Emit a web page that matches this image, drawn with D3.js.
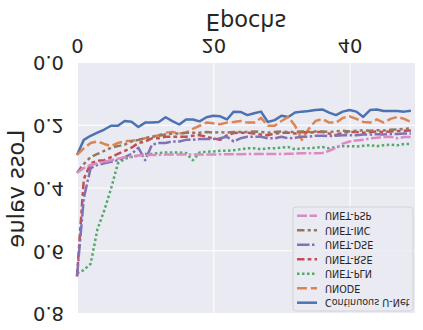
<!DOCTYPE html>
<html>
<head>
<meta charset="utf-8">
<script src="https://cdn.jsdelivr.net/npm/d3@7"></script>
<style>
body { margin: 0; background: #fff; }
svg text { font-family: 'DejaVu Sans', sans-serif; fill: #262626; }
</style>
</head>
<body>
<div class="chart-wrapper"></div>
<script>
const models = ['Continuous U-Net', 'UNODE', 'UNET-PLN', 'UNET-RSE', 'UNET-DSE', 'UNET-INC', 'UNET-PSP'];

const continuousUNet = [0.293, 0.245, 0.232, 0.222, 0.212, 0.2, 0.2, 0.185, 0.187, 0.204, 0.19, 0.19, 0.188, 0.173, 0.185, 0.196, 0.18, 0.18, 0.186, 0.173, 0.168, 0.17, 0.18, 0.155, 0.156, 0.166, 0.16, 0.155, 0.188, 0.182, 0.168, 0.172, 0.158, 0.155, 0.153, 0.15, 0.148, 0.158, 0.166, 0.155, 0.15, 0.155, 0.172, 0.15, 0.148, 0.153, 0.153, 0.153, 0.155, 0.152];
const unode = [0.293, 0.272, 0.255, 0.25, 0.258, 0.265, 0.255, 0.25, 0.248, 0.245, 0.24, 0.235, 0.23, 0.222, 0.22, 0.225, 0.222, 0.21, 0.2, 0.19, 0.192, 0.195, 0.19, 0.188, 0.185, 0.19, 0.19, 0.175, 0.2, 0.2, 0.185, 0.172, 0.2, 0.245, 0.21, 0.185, 0.178, 0.19, 0.19, 0.175, 0.17, 0.178, 0.188, 0.19, 0.18, 0.19, 0.178, 0.172, 0.178, 0.188];
const unetPln = [0.67, 0.66, 0.64, 0.53, 0.47, 0.4, 0.32, 0.305, 0.3, 0.295, 0.29, 0.29, 0.287, 0.285, 0.285, 0.285, 0.287, 0.31, 0.285, 0.283, 0.282, 0.28, 0.28, 0.278, 0.275, 0.272, 0.272, 0.275, 0.272, 0.272, 0.27, 0.268, 0.275, 0.272, 0.272, 0.27, 0.268, 0.272, 0.268, 0.265, 0.265, 0.266, 0.264, 0.262, 0.265, 0.262, 0.26, 0.262, 0.258, 0.258];
const unetRse = [0.68, 0.37, 0.32, 0.312, 0.31, 0.3, 0.29, 0.28, 0.27, 0.255, 0.25, 0.24, 0.24, 0.235, 0.235, 0.235, 0.235, 0.232, 0.23, 0.235, 0.24, 0.245, 0.23, 0.223, 0.222, 0.222, 0.225, 0.228, 0.23, 0.225, 0.222, 0.222, 0.225, 0.22, 0.222, 0.22, 0.22, 0.225, 0.23, 0.222, 0.22, 0.22, 0.222, 0.22, 0.218, 0.22, 0.218, 0.217, 0.216, 0.215];
const unetDse = [0.68, 0.43, 0.335, 0.325, 0.32, 0.315, 0.31, 0.3, 0.29, 0.27, 0.31, 0.26, 0.255, 0.255, 0.25, 0.25, 0.245, 0.245, 0.242, 0.242, 0.242, 0.24, 0.235, 0.25, 0.24, 0.235, 0.235, 0.235, 0.24, 0.24, 0.235, 0.24, 0.238, 0.235, 0.235, 0.232, 0.232, 0.233, 0.232, 0.23, 0.23, 0.23, 0.228, 0.228, 0.227, 0.228, 0.226, 0.226, 0.225, 0.225];
const unetInc = [0.35, 0.322, 0.3, 0.29, 0.28, 0.27, 0.265, 0.26, 0.25, 0.245, 0.24, 0.235, 0.232, 0.228, 0.225, 0.225, 0.222, 0.222, 0.222, 0.22, 0.222, 0.22, 0.222, 0.22, 0.22, 0.22, 0.218, 0.22, 0.222, 0.22, 0.218, 0.22, 0.22, 0.218, 0.22, 0.218, 0.218, 0.22, 0.218, 0.216, 0.218, 0.216, 0.215, 0.216, 0.214, 0.215, 0.213, 0.212, 0.21, 0.208];
const unetPsp = [0.35, 0.335, 0.325, 0.32, 0.315, 0.31, 0.305, 0.3, 0.298, 0.295, 0.293, 0.293, 0.293, 0.292, 0.292, 0.292, 0.292, 0.292, 0.292, 0.292, 0.292, 0.291, 0.291, 0.291, 0.291, 0.29, 0.29, 0.29, 0.29, 0.29, 0.29, 0.289, 0.289, 0.288, 0.288, 0.288, 0.287, 0.28, 0.27, 0.257, 0.25, 0.247, 0.245, 0.24, 0.238, 0.236, 0.235, 0.24, 0.236, 0.236];

const seriesValues = [continuousUNet, unode, unetPln, unetRse, unetDse, unetInc, unetPsp];

const xTicks = [0, 20, 40];
const yTicks = [0.0, 0.2, 0.4, 0.6, 0.8];

const colors = ['#4c72b0', '#dd8452', '#55a868', '#c44e52', '#8172b3', '#937860', '#da8bc3'];
const lw = 2.5;
const dashes = [
	'',
	[4, 1.5],
	[1, 1],
	[3, 1.25, 1.5, 1.25],
	[5, 1, 1, 1],
	[3, 1.25, 1.25, 1.25, 1.25, 1.25],
	[4, 1, 4, 1, 1, 1]
].map(d => d === '' ? null : d.map(v => v * lw).join(','));

const width = 423;
const height = 330;
const margin = { top: 16, right: 8, bottom: 63, left: 77 };

const svg = d3.select('.chart-wrapper')
.append('svg')
.attr('width', width)
.attr('height', height);

// the reference is mirrored top to bottom, so draw normally and flip everything
const root = svg.append('g')
.attr('transform', `translate(0,${height}) scale(1,-1)`);

const x = d3.scaleLinear()
.domain([0, 49.6])
.range([margin.left, width - margin.right]);

const y = d3.scaleLinear()
.domain([0, 0.8])
.range([height - margin.bottom, margin.top]);

root.append('rect')
.attr('x', margin.left)
.attr('y', margin.top)
.attr('width', width - margin.right - margin.left)
.attr('height', height - margin.bottom - margin.top)
.attr('fill', '#eaeaf2');

const xAxis = root.append('g')
.attr('transform', `translate(0,${height - margin.bottom})`)
.call(d3.axisBottom(x).tickValues(xTicks).tickFormat(d3.format('d'))
	.tickSize(-(height - margin.bottom - margin.top)).tickPadding(10));

const yAxis = root.append('g')
.attr('transform', `translate(${margin.left},0)`)
.call(d3.axisLeft(y).tickValues(yTicks).tickFormat(d3.format('.1f'))
	.tickSize(-(width - margin.right - margin.left)).tickPadding(13));

[xAxis, yAxis].forEach(a => {
	a.select('.domain').remove();
	a.selectAll('.tick line').attr('stroke', '#ffffff').attr('stroke-width', 1);
	a.selectAll('.tick text').style('font-size', '19.5px').attr('fill', '#262626');
});

const line = d3.line()
.x((d, i) => x(i))
.y(d => y(d));

root.append('g')
.selectAll('path')
.data(seriesValues)
.enter()
.append('path')
.attr('d', d => line(d))
.attr('fill', 'none')
.attr('stroke', (d, i) => colors[i])
.attr('stroke-width', lw)
.attr('stroke-dasharray', (d, i) => dashes[i])
.attr('stroke-linejoin', 'round');

root.append('text')
.attr('x', (margin.left + width - margin.right) / 2)
.attr('y', 316)
.attr('text-anchor', 'middle')
.style('font-size', '22.5px')
.text('Epochs');

root.append('text')
.attr('transform', `translate(24,${(margin.top + height - margin.bottom) / 2}) rotate(-90)`)
.attr('text-anchor', 'middle')
.style('font-size', '22.5px')
.text('Loss value');

// legend
const legend = root.append('g');

legend.append('rect')
.attr('x', 293)
.attr('y', 19)
.attr('width', 120)
.attr('height', 104)
.attr('rx', 3)
.attr('fill', '#eaeaf2')
.attr('fill-opacity', 0.8)
.attr('stroke', '#cccccc')
.attr('stroke-width', 0.8);

const items = legend.selectAll('.item')
.data(models)
.enter()
.append('g')
.attr('class', 'item')
.attr('transform', (d, i) => `translate(0,${27.3 + i * 14.5})`);

items.append('line')
.attr('x1', 297)
.attr('x2', 317)
.attr('stroke', (d, i) => colors[i])
.attr('stroke-width', lw)
.attr('stroke-dasharray', (d, i) => dashes[i]);

items.append('text')
.attr('x', 325)
.attr('dy', '0.35em')
.style('font-size', '9.6px')
.text(d => d);
</script>
</body>
</html>
